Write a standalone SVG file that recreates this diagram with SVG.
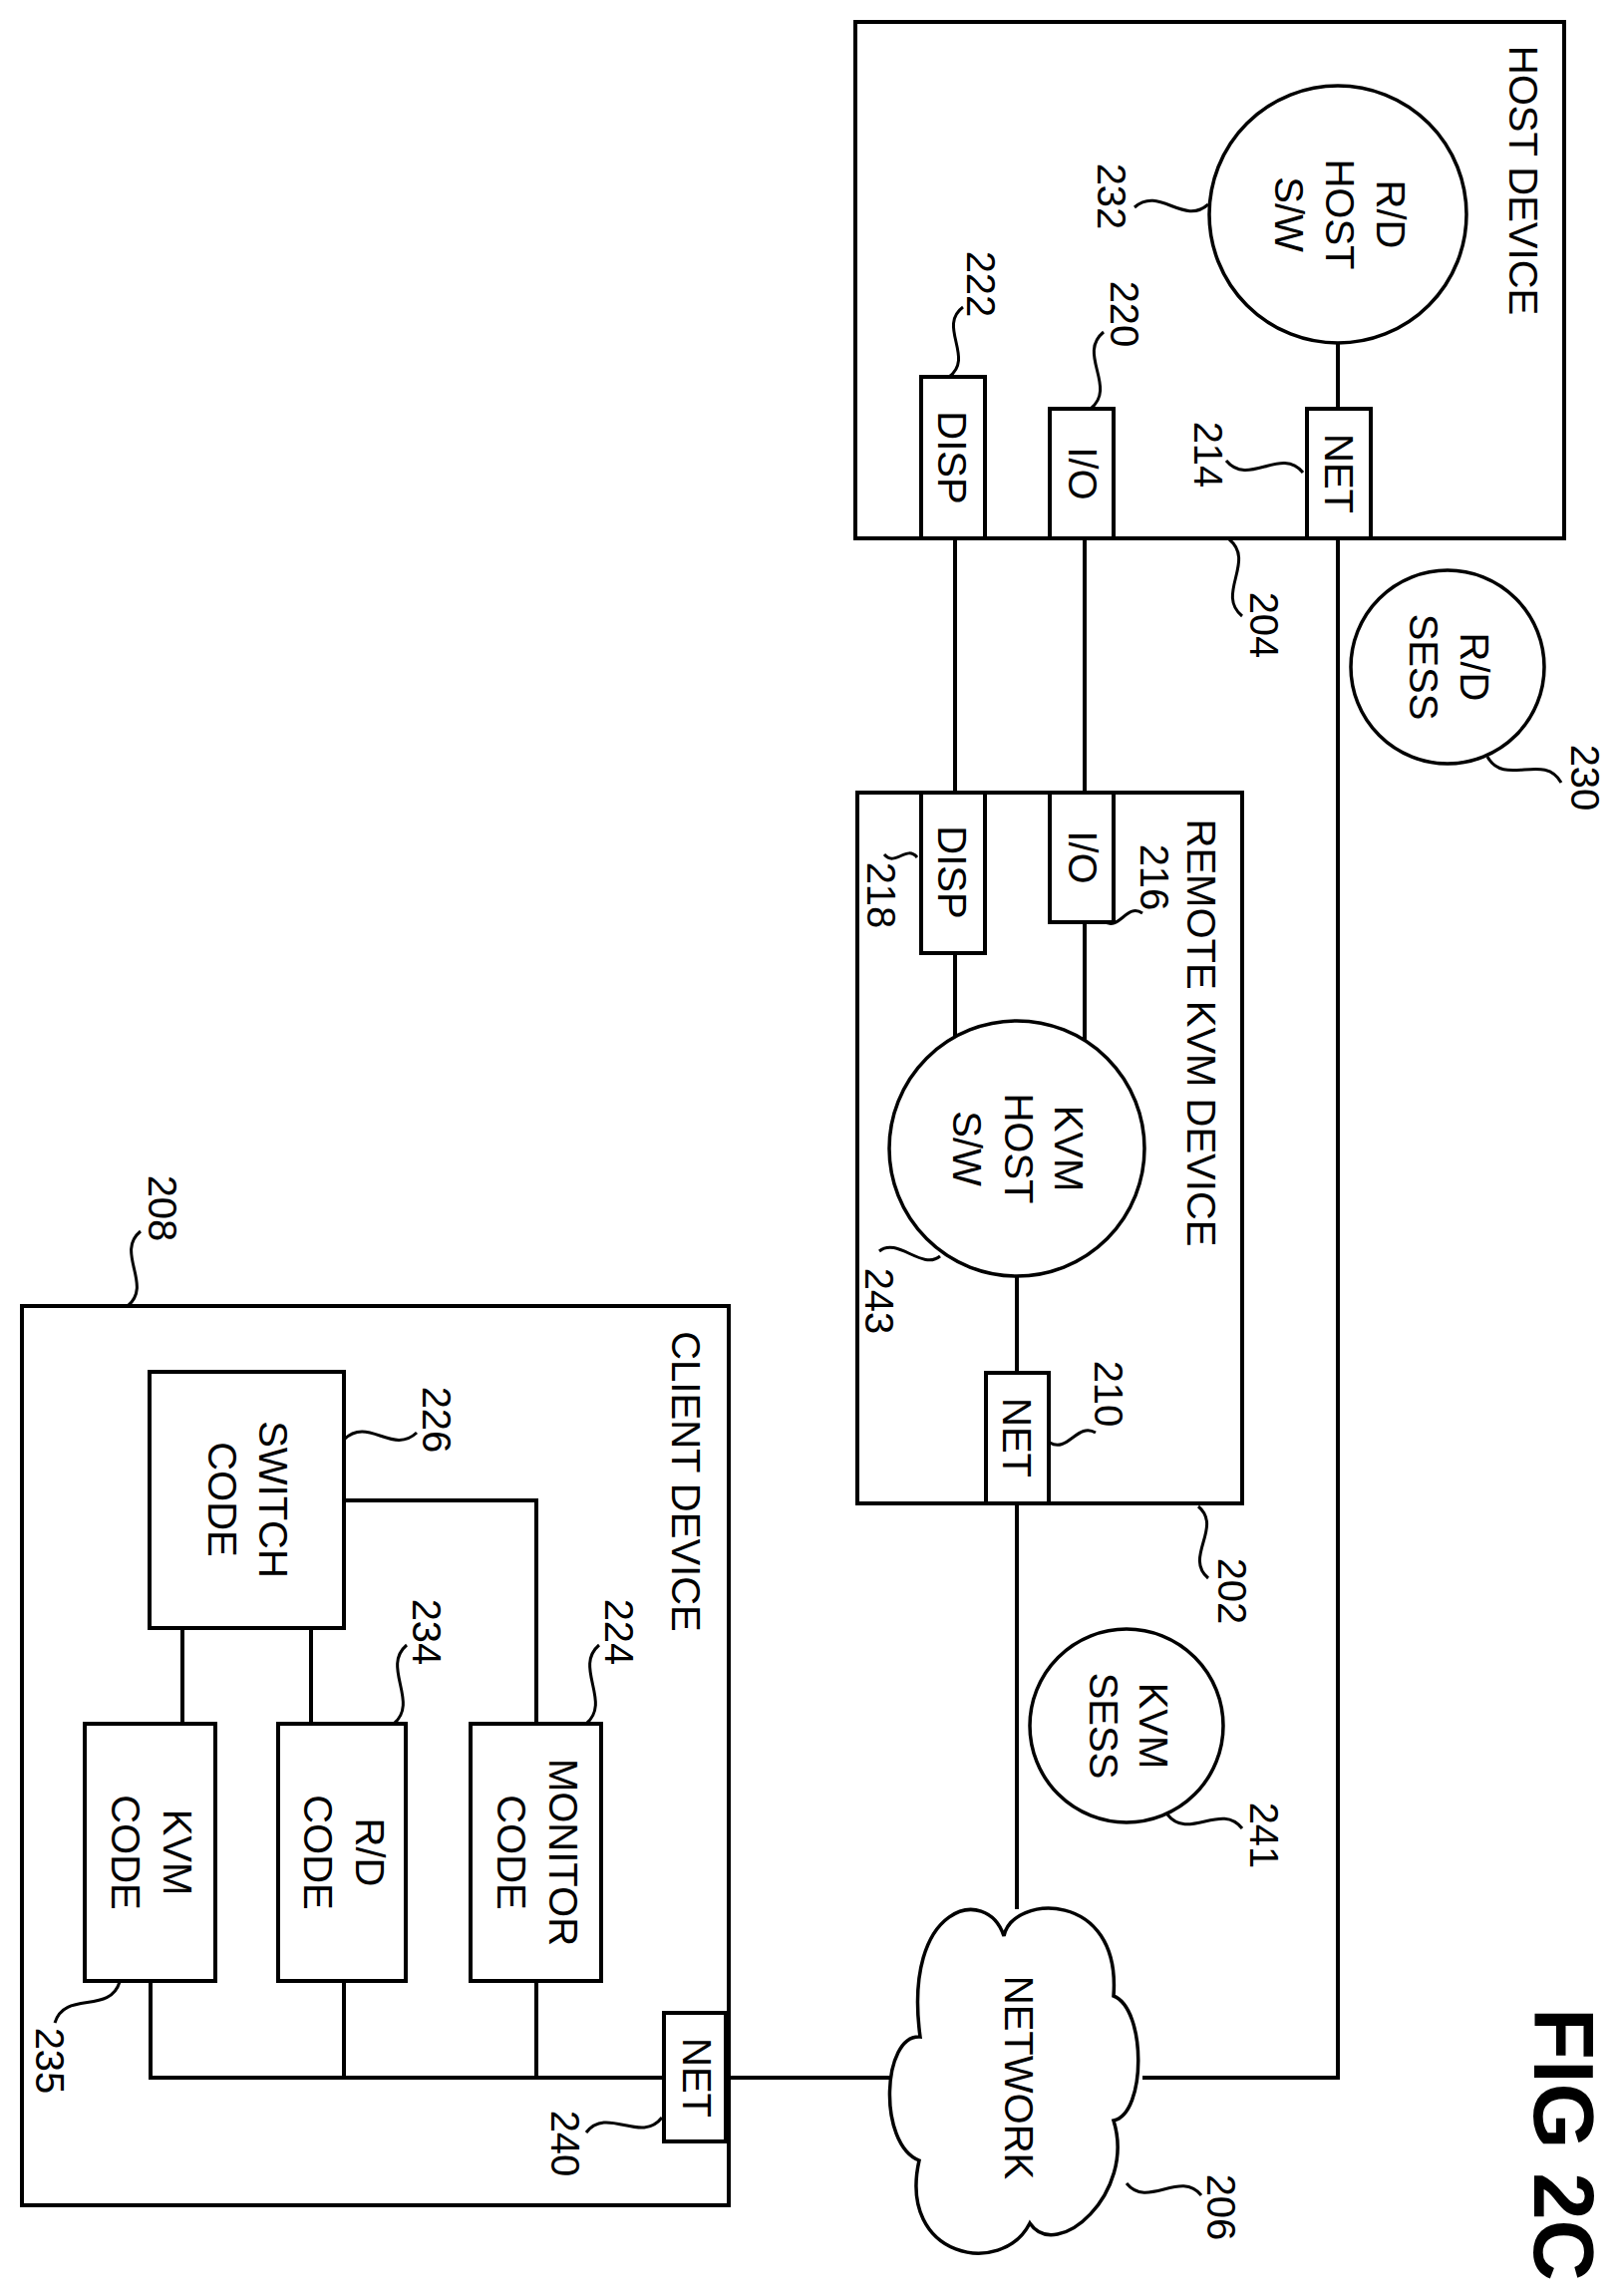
<svg xmlns="http://www.w3.org/2000/svg" width="1624" height="2303" viewBox="0 0 1624 2303">
<style>
.b{fill:none;stroke:#000;stroke-width:4}
.c{fill:#fff;stroke:#000;stroke-width:3.5}
.l{fill:none;stroke:#000;stroke-width:4}
.q{fill:none;stroke:#000;stroke-width:3}
text{font-family:"Liberation Sans",Arial,sans-serif;font-size:40px;text-anchor:middle;fill:#000}
.f{font-weight:bold;font-size:85px}
</style>
<rect width="1624" height="2303" fill="#fff"/>
<g id="connectors">
<path class="l" d="M958,540V795M1088,540V795M1342,344V410M1342,540V2084H1146M958,956V1050M1088,925V1062M1020,1280V1377M1020,1508V1915M897,2084H728M666,2084H151V1987M345,1987V2084M538,1987V2084M345,1505H538V1729M183,1633V1729M312,1633V1729"/>
</g>
<g id="leaders">
<path class="q" d="M1212,205C1187,227 1163,186 1138,208"/>
<path class="q" d="M952,378C978,359 940,327 966,308"/>
<path class="q" d="M1094,410C1121,388 1080,355 1107,333"/>
<path class="q" d="M1307,474C1285,447 1252,489 1230,462"/>
<path class="q" d="M1233,541C1260,563 1219,596 1246,618"/>
<path class="q" d="M1492,759C1509,790 1549,754 1566,785"/>
<path class="q" d="M920,860C909,847 898,870 887,857"/>
<path class="q" d="M1107,924C1123,935 1130,905 1146,916"/>
<path class="q" d="M943,1260C925,1275 900,1240 882,1255"/>
<path class="q" d="M1053,1447C1071,1458 1081,1426 1099,1437"/>
<path class="q" d="M1202,1511C1227,1532 1187,1562 1212,1583"/>
<path class="q" d="M1171,1820C1192,1847 1225,1807 1246,1834"/>
<path class="q" d="M1130,2190C1151,2216 1184,2176 1205,2202"/>
<path class="q" d="M345,1444C369,1420 394,1460 418,1437"/>
<path class="q" d="M395,1729C421,1707 382,1672 408,1650"/>
<path class="q" d="M588,1729C614,1707 575,1672 601,1650"/>
<path class="q" d="M120,1988C110,2021 65,1996 55,2029"/>
<path class="q" d="M664,2124C643,2151 609,2112 588,2139"/>
<path class="q" d="M128,1310C154,1289 115,1256 141,1235"/>
</g>
<g id="host">
<rect class="b" x="858" y="22" width="711" height="518"/>
<text transform="translate(1514,181) rotate(90)">HOST DEVICE</text>
<text transform="translate(1101,197) rotate(90)">232</text>
<text transform="translate(970,285) rotate(90)">222</text>
<text transform="translate(1114,315) rotate(90)">220</text>
<text transform="translate(1198,456) rotate(90)">214</text>
<text transform="translate(1254,627) rotate(90)">204</text>
</g>
<g id="rdhost">
<circle class="c" cx="1342" cy="215" r="129"/>
<text transform="translate(1381,215) rotate(90)">R/D</text>
<text transform="translate(1330,215) rotate(90)">HOST</text>
<text transform="translate(1279,215) rotate(90)">S/W</text>
</g>
<g id="hostnet"><rect class="b" x="1311" y="410" width="64" height="130"/><text transform="translate(1329,475) rotate(90)">NET</text></g>
<g id="hostio"><rect class="b" x="1053" y="410" width="64" height="130"/><text transform="translate(1072,475) rotate(90)">I/O</text></g>
<g id="hostdisp"><rect class="b" x="924" y="378" width="64" height="162"/><text transform="translate(941,459) rotate(90)">DISP</text></g>
<g id="rdsess">
<circle class="c" cx="1452" cy="669" r="97"/>
<text transform="translate(1465,669) rotate(90)">R/D</text>
<text transform="translate(1414,669) rotate(90)">SESS</text>
<text transform="translate(1576,780) rotate(90)">230</text>
</g>
<g id="kvmdevice">
<rect class="b" x="860" y="795" width="386" height="713"/>
<text transform="translate(1191,1036) rotate(90)">REMOTE KVM DEVICE</text>
<text transform="translate(870,898) rotate(90)">218</text>
<text transform="translate(1144,880) rotate(90)">216</text>
<text transform="translate(868,1305) rotate(90)">243</text>
<text transform="translate(1098,1398) rotate(90)">210</text>
<text transform="translate(1222,1596) rotate(90)">202</text>
</g>
<g id="kvmdisp"><rect class="b" x="924" y="795" width="64" height="161"/><text transform="translate(941,875) rotate(90)">DISP</text></g>
<g id="kvmio"><rect class="b" x="1053" y="795" width="64" height="130"/><text transform="translate(1072,860) rotate(90)">I/O</text></g>
<g id="kvmhost">
<circle class="c" cx="1020" cy="1152" r="128"/>
<text transform="translate(1058,1152) rotate(90)">KVM</text>
<text transform="translate(1008,1152) rotate(90)">HOST</text>
<text transform="translate(956,1152) rotate(90)">S/W</text>
</g>
<g id="kvmnet"><rect class="b" x="989" y="1377" width="63" height="131"/><text transform="translate(1006,1442) rotate(90)">NET</text></g>
<g id="kvmsess">
<circle class="c" cx="1130" cy="1731" r="97"/>
<text transform="translate(1143,1731) rotate(90)">KVM</text>
<text transform="translate(1093,1731) rotate(90)">SESS</text>
<text transform="translate(1254,1841) rotate(90)">241</text>
</g>
<g id="network">
<path class="c" d="M1007,1942C1015,1900 1125,1895 1117,2002C1150,2015 1150,2120 1117,2127C1140,2200 1060,2270 1033,2230C1005,2285 900,2265 922,2167C880,2150 885,2040 923,2043C905,1910 990,1890 1007,1942Z"/>
<text transform="translate(1008,2084) rotate(90)">NETWORK</text>
<text transform="translate(1211,2214) rotate(90)">206</text>
</g>
<g id="client">
<rect class="b" x="22" y="1310" width="709" height="902"/>
<text transform="translate(674,1486) rotate(90)">CLIENT DEVICE</text>
<text transform="translate(424,1424) rotate(90)">226</text>
<text transform="translate(414,1637) rotate(90)">234</text>
<text transform="translate(607,1637) rotate(90)">224</text>
<text transform="translate(36,2067) rotate(90)">235</text>
<text transform="translate(553,2150) rotate(90)">240</text>
<text transform="translate(149,1212) rotate(90)">208</text>
</g>
<g id="switch"><rect class="b" x="150" y="1376" width="195" height="257"/><text transform="translate(260,1504) rotate(90)">SWITCH</text><text transform="translate(209,1504) rotate(90)">CODE</text></g>
<g id="kvmcode"><rect class="b" x="85" y="1729" width="131" height="258"/><text transform="translate(164,1858) rotate(90)">KVM</text><text transform="translate(112,1858) rotate(90)">CODE</text></g>
<g id="rdcode"><rect class="b" x="279" y="1729" width="128" height="258"/><text transform="translate(357,1858) rotate(90)">R/D</text><text transform="translate(305,1858) rotate(90)">CODE</text></g>
<g id="monitor"><rect class="b" x="472" y="1729" width="131" height="258"/><text transform="translate(551,1858) rotate(90)">MONITOR</text><text transform="translate(499,1858) rotate(90)">CODE</text></g>
<g id="clientnet"><rect class="b" x="666" y="2019" width="62" height="129"/><text transform="translate(685,2084) rotate(90)">NET</text></g>
<text class="f" transform="translate(1539,2151) rotate(90)">FIG 2C</text>
</svg>
